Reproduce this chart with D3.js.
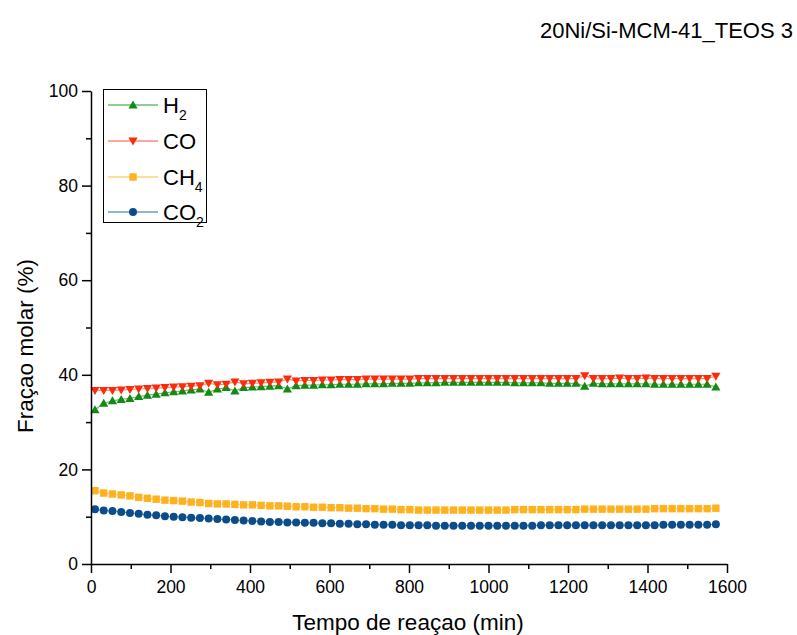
<!DOCTYPE html>
<html><head><meta charset="utf-8">
<script src="https://cdn.jsdelivr.net/npm/d3@7/dist/d3.min.js"></script>
<style>body{margin:0;background:#fff;} text{font-family:"Liberation Sans",Arial,sans-serif;}</style>
</head><body><svg id="c" width="797" height="635"></svg>
<script>
const time = [10,32,54,76,98,120,142,164,186,208,230,252,274,296,318,340,362,384,406,428,450,472,494,516,538,560,582,604,626,648,670,692,714,736,758,780,802,824,846,868,890,912,934,956,978,1000,1022,1044,1066,1088,1110,1132,1154,1176,1198,1220,1242,1264,1286,1308,1330,1352,1374,1396,1418,1440,1462,1484,1506,1528,1550,1572];
const h2 = [32.6,34.0,34.5,34.8,35.0,35.4,35.7,35.9,36.2,36.4,36.6,36.8,37.0,36.3,37.0,37.3,36.6,37.3,37.4,37.5,37.6,37.7,37.0,37.7,37.8,37.8,37.9,37.9,38.0,38.0,38.0,38.1,38.1,38.1,38.2,38.2,38.2,38.3,38.3,38.3,38.4,38.4,38.4,38.4,38.4,38.4,38.4,38.4,38.3,38.3,38.3,38.3,38.2,38.2,38.2,38.2,37.6,38.2,38.1,38.1,38.1,38.1,38.1,38.1,38.0,38.0,38.0,38.0,38.0,38.0,38.0,37.4];
const co = [36.7,36.7,36.7,36.8,36.9,37.0,37.1,37.2,37.3,37.4,37.5,37.6,37.7,38.2,37.9,38.0,38.5,38.1,38.2,38.3,38.4,38.5,39.1,38.7,38.8,38.8,38.9,38.9,39.0,39.0,39.0,39.1,39.1,39.1,39.1,39.1,39.1,39.2,39.2,39.2,39.2,39.2,39.2,39.2,39.2,39.2,39.2,39.2,39.2,39.2,39.2,39.2,39.2,39.2,39.2,39.2,39.8,39.2,39.2,39.2,39.3,39.2,39.2,39.3,39.2,39.2,39.2,39.2,39.2,39.2,39.2,39.7];
const ch4 = [15.5,15.0,14.8,14.6,14.4,14.1,13.9,13.7,13.5,13.4,13.3,13.1,13.0,12.8,12.7,12.7,12.6,12.5,12.5,12.4,12.3,12.3,12.2,12.1,12.1,12.0,12.0,11.9,11.9,11.8,11.8,11.7,11.7,11.6,11.6,11.5,11.5,11.4,11.4,11.4,11.4,11.4,11.4,11.4,11.4,11.4,11.4,11.4,11.5,11.5,11.5,11.5,11.5,11.5,11.5,11.5,11.6,11.6,11.6,11.6,11.6,11.6,11.6,11.6,11.7,11.7,11.7,11.7,11.7,11.7,11.7,11.8];
const co2 = [11.6,11.3,11.2,11.0,10.8,10.6,10.4,10.3,10.1,10.0,9.9,9.8,9.7,9.6,9.5,9.4,9.3,9.2,9.1,9.0,8.9,8.9,8.8,8.8,8.7,8.7,8.6,8.6,8.5,8.5,8.4,8.4,8.3,8.3,8.3,8.2,8.2,8.2,8.2,8.1,8.1,8.1,8.1,8.1,8.1,8.1,8.1,8.1,8.1,8.1,8.1,8.2,8.2,8.2,8.2,8.2,8.2,8.2,8.2,8.2,8.2,8.2,8.2,8.2,8.2,8.3,8.3,8.3,8.3,8.3,8.3,8.4];
const xTicks = [0,200,400,600,800,1000,1200,1400,1600];
const yTicks = [0,20,40,60,80,100];
const seriesNames = ["H","CO","CH","CO"];
const seriesSubs = ["2","","4","2"];

const svg = d3.select("#c");
const x = d3.scaleLinear().domain([0,1600]).range([91,727]);
const y = d3.scaleLinear().domain([0,100]).range([564,91]);

const series = [
  {v:h2, color:"#138a13", line:"#6cbf6c", sym:"up"},
  {v:co, color:"#fb2b0b", line:"#ff8a78", sym:"down"},
  {v:ch4, color:"#ffb21f", line:"#ffd27a", sym:"square"},
  {v:co2, color:"#0b4d8a", line:"#6f9cc7", sym:"circle"}
];
function marker(g, sym, cx, cy, color){
  if(sym==="up") g.append("path").attr("d",`M${cx},${cy-4.5}L${cx+4.6},${cy+3.5}L${cx-4.6},${cy+3.5}Z`).attr("fill",color);
  else if(sym==="down") g.append("path").attr("d",`M${cx},${cy+4.5}L${cx+4.6},${cy-3.5}L${cx-4.6},${cy-3.5}Z`).attr("fill",color);
  else if(sym==="square") g.append("rect").attr("x",cx-3.7).attr("y",cy-3.7).attr("width",7.4).attr("height",7.4).attr("fill",color);
  else g.append("circle").attr("cx",cx).attr("cy",cy).attr("r",4).attr("fill",color);
}
const plot = svg.append("g");
series.forEach(s=>{
  const line = d3.line().x((d,i)=>x(time[i])).y(d=>y(d));
  plot.append("path").attr("d",line(s.v)).attr("fill","none").attr("stroke",s.line).attr("stroke-width",1.2);
  const g = plot.append("g");
  s.v.forEach((d,i)=>marker(g,s.sym,x(time[i]),y(d),s.color));
});

// axes
const fmt = d3.format("d");
const xAx = svg.append("g").attr("transform","translate(0,564)")
  .call(d3.axisBottom(x).tickValues(xTicks).tickFormat(fmt).tickSize(9).tickSizeOuter(0).tickPadding(8));
const xMin = svg.append("g").attr("transform","translate(0,564)")
  .call(d3.axisBottom(x).tickValues(d3.range(100,1600,200)).tickSize(5).tickFormat("").tickSizeOuter(0));
const yAx = svg.append("g").attr("transform","translate(91,0)")
  .call(d3.axisLeft(y).tickValues(yTicks).tickFormat(fmt).tickSize(9).tickSizeOuter(0).tickPadding(4));
const yMin = svg.append("g").attr("transform","translate(91,0)")
  .call(d3.axisLeft(y).tickValues([10,30,50,70,90]).tickSize(5).tickFormat("").tickSizeOuter(0));
[xAx,xMin,yAx,yMin].forEach(a=>{a.selectAll("path,line").attr("stroke","#000").attr("stroke-width",1.5);
  a.selectAll("text").attr("fill","#000").style("font-size","17.5px").style("font-family","'Liberation Sans',Arial,sans-serif");});
xMin.select(".domain").remove(); yMin.select(".domain").remove();

svg.append("text").attr("x",408).attr("y",630).attr("text-anchor","middle").style("font-size","22.5px").text("Tempo de reaçao (min)");
svg.append("text").attr("transform","translate(33,346) rotate(-90)").attr("text-anchor","middle").style("font-size","22.5px").text("Fraçao molar (%)");
svg.append("text").attr("x",793).attr("y",38).attr("text-anchor","end").style("font-size","22px").text("20Ni/Si-MCM-41_TEOS 3");

// legend
const lg = svg.append("g");
lg.append("rect").attr("x",103.5).attr("y",89.5).attr("width",103).attr("height",133).attr("fill","#fff").attr("stroke","#000").attr("stroke-width",1);
const rowsY = [105,141,177,212];
series.forEach((s,i)=>{
  const yy = rowsY[i];
  lg.append("line").attr("x1",108).attr("x2",158).attr("y1",yy).attr("y2",yy).attr("stroke",s.line).attr("stroke-width",1.5);
  marker(lg,s.sym,133,yy,s.color);
  const t = lg.append("text").attr("x",163).attr("y",yy+8).style("font-size","22px").text(seriesNames[i]);
  if(seriesSubs[i]) t.append("tspan").attr("dy",7).style("font-size","14px").text(seriesSubs[i]);
});
</script></body></html>
